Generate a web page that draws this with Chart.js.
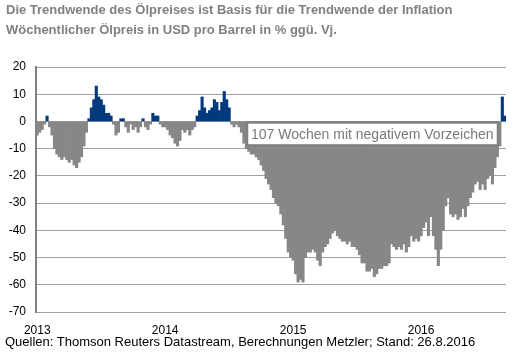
<!DOCTYPE html>
<html lang="de">
<head>
<meta charset="UTF-8">
<script src="https://cdn.jsdelivr.net/npm/chart.js"></script>
<style>
  body { margin: 0; background: #fff; font-family: "Liberation Sans", Arial, sans-serif; }
  #wrap { position: relative; width: 516px; height: 361px; }
  .title { position: absolute; left: 6px; font-size: 13px; font-weight: bold; color: #808080; white-space: nowrap; }
  #source { position: absolute; left: 5px; top: 334px; font-size: 13px; color: #000; white-space: nowrap; }
  canvas { position: absolute; left: 0; top: 0; }
</style>
</head>
<body>
<div id="wrap">
  <canvas id="oilChart" width="516" height="361"></canvas>
  <div class="title" style="top:2px">Die Trendwende des Ölpreises ist Basis für die Trendwende der Inflation</div>
  <div class="title" style="top:22px">Wöchentlicher Ölpreis in USD pro Barrel in % ggü. Vj.</div>
  <div id="source">Quellen: Thomson Reuters Datastream, Berechnungen Metzler; Stand: 26.8.2016</div>
</div>
<script>
// Wochenwerte, Ölpreis in % ggü. Vorjahr
const values2013 = [-5, -4, -3, -1, 2, -2, -5, -10, -12, -13, -14, -13, -14, -15, -14, -16, -17, -15, -13, -9,
  -4, 1, 5, 8, 13, 9, 8, 6, 3, 3, 2, -1, -5, -4, 1, 1, -2, -4, -1, -3,
  -2, -4, -2, 1, -2, -3, -1, 3, 2, 2, -1, -2];
const values2014 = [-2, -3, -5, -6, -8, -9, -7, -3, -4, -3, -5, -3, -2, 2, 4, 9, 5, 3, 4, 5,
  8, 7, 4, 7, 11, 8, 5, -1, -2, -1, -2, -4, -8, -10, -11, -12, -12, -13, -14, -16,
  -18, -21, -23, -25, -28, -30, -31, -34, -38, -43, -48, -50];
const values2015 = [-51, -56, -59, -58, -59, -50, -48, -48, -47, -48, -51, -53, -48, -46, -45, -43, -41, -40, -42, -43,
  -44, -44, -45, -44, -46, -46, -47, -49, -52, -52, -55, -55, -54, -57, -56, -54, -54, -53, -53, -52,
  -45, -46, -47, -46, -47, -45, -48, -46, -42, -44, -43, -44];
const values2016 = [-42, -39, -37, -42, -35, -42, -47, -53, -47, -40, -31, -28, -34, -35, -34, -36, -35, -32, -35, -31,
  -28, -26, -23, -22, -25, -23, -25, -21, -20, -23, -17, -13, -9, 9, 2];
const years = ['2013', '2014', '2015', '2016'];
const yTicks = [20, 10, 0, -10, -20, -30, -40, -50, -60, -70];
const noteText = '107 Wochen mit negativem Vorzeichen';

const values = values2013.concat(values2014, values2015, values2016);
// Kategorien: Jahreszahl an der ersten Woche jedes Jahres
const yearStarts = [0, values2013.length, values2013.length + values2014.length,
  values2013.length + values2014.length + values2015.length];
const labels = values.map((v, i) => {
  const k = yearStarts.indexOf(i);
  return k >= 0 ? years[k] : '';
});
const colors = values.map(v => v >= 0 ? '#003a7d' : '#878787');

// Hinweis-Box über den Balken
const notePlugin = {
  id: 'note',
  afterDatasetsDraw(chart) {
    const ctx = chart.ctx;
    const y = chart.scales.y;
    const left = 247, right = 498;
    const top = y.getPixelForValue(0) + 1;
    const h = 23;
    ctx.save();
    ctx.fillStyle = '#fff';
    ctx.fillRect(left, top, right - left, h);
    ctx.strokeStyle = '#808080';
    ctx.lineWidth = 2.5;
    ctx.strokeRect(left, top, right - left, h);
    ctx.fillStyle = '#7a7a7a';
    ctx.font = '14px "Liberation Sans", Arial, sans-serif';
    ctx.textBaseline = 'middle';
    ctx.fillText(noteText, left + 4, top + h / 2 + 1);
    ctx.restore();
  }
};

new Chart(document.getElementById('oilChart'), {
  type: 'bar',
  data: {
    labels: labels,
    datasets: [{
      data: values,
      backgroundColor: colors,
      borderWidth: 0,
      categoryPercentage: 1.0,
      barPercentage: 1.0
    }]
  },
  options: {
    responsive: false,
    animation: false,
    layout: { padding: { top: 67, right: 10, left: 0, bottom: 0 } },
    plugins: { legend: { display: false }, tooltip: { enabled: false } },
    scales: {
      x: {
        grid: { display: false },
        border: { display: false },
        ticks: {
          autoSkip: false, maxRotation: 0, padding: 3,
          color: '#000', font: { family: '"Liberation Sans", Arial', size: 12 }
        },
        afterFit(scale) { scale.height = 49; }
      },
      y: {
        min: -70, max: 20,
        afterBuildTicks(scale) { scale.ticks = yTicks.map(v => ({ value: v })); },
        grid: { color: '#a0a0a0', lineWidth: 1, drawTicks: false },
        border: { display: true, color: '#808080', width: 2 },
        ticks: {
          padding: 10, color: '#000',
          font: { family: '"Liberation Sans", Arial', size: 12 }
        },
        afterFit(scale) { scale.width = 36; }
      }
    }
  },
  plugins: [notePlugin]
});
</script>
</body>
</html>
